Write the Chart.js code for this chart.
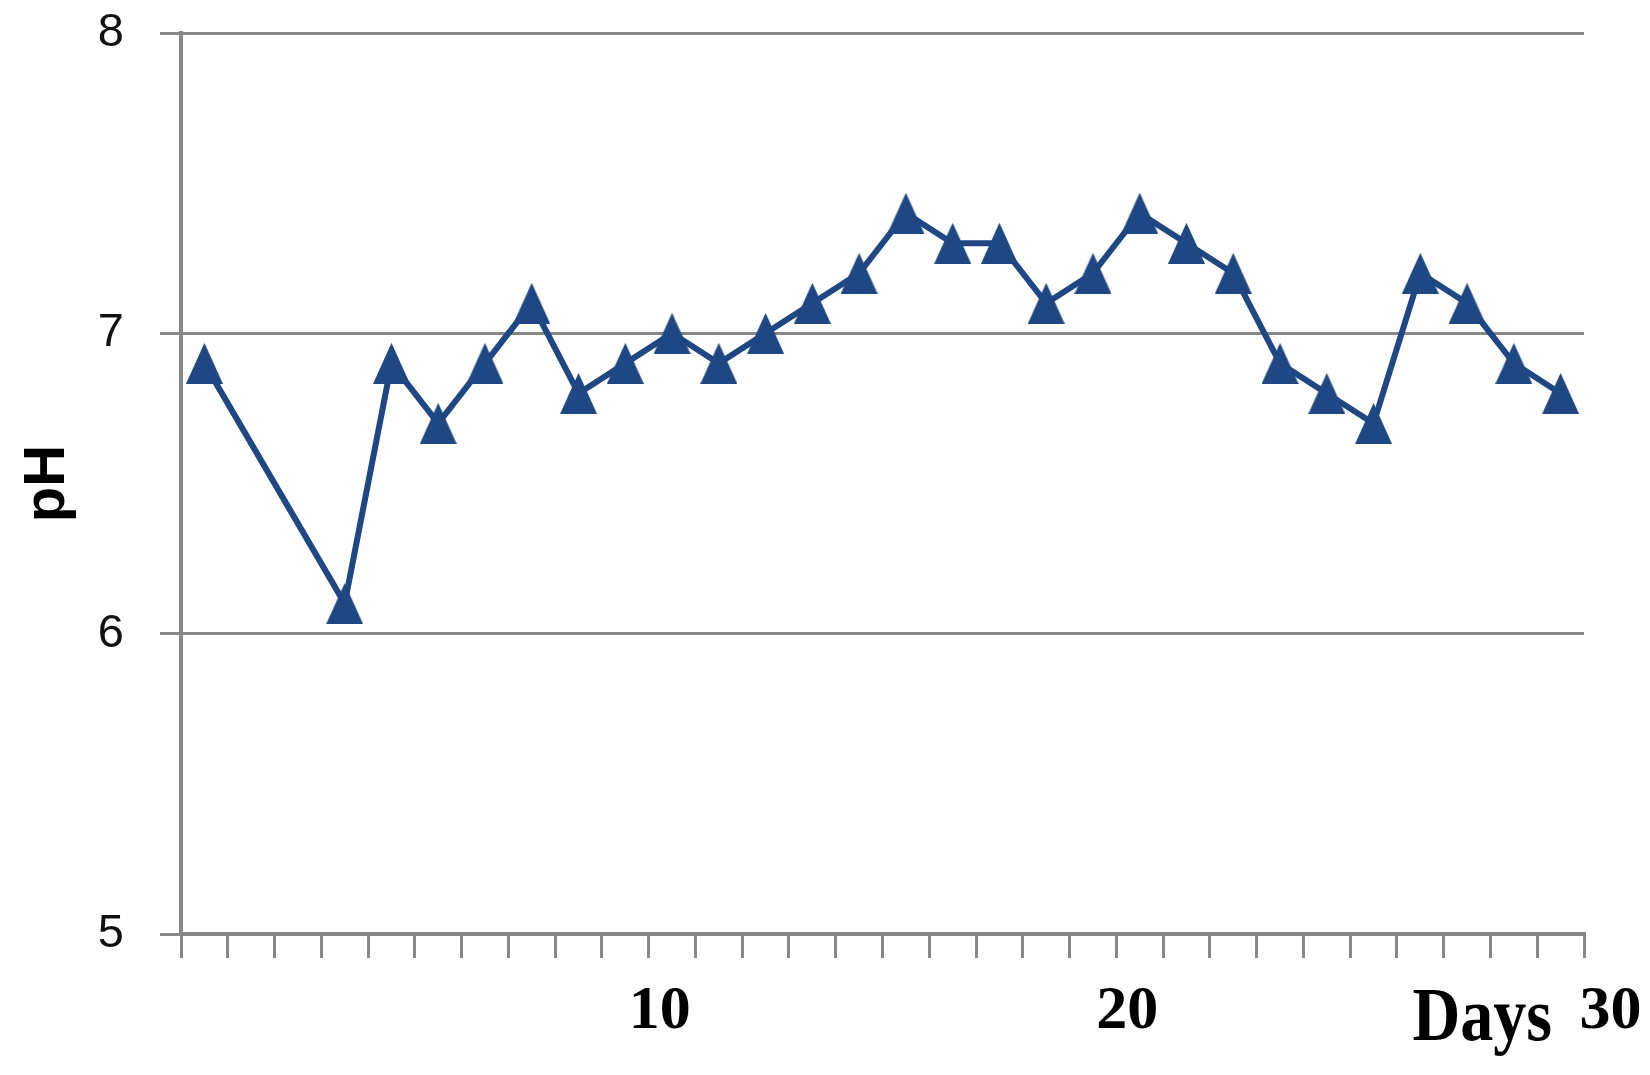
<!DOCTYPE html>
<html><head><meta charset="utf-8">
<script src="https://cdn.jsdelivr.net/npm/chart.js@4/dist/chart.umd.min.js"></script>
<style>html,body{margin:0;padding:0;background:#fff}canvas{display:block}</style>
</head><body>
<canvas id="c" width="1650" height="1075"></canvas>
<script>
// ---- data ----
const days = [1, 4, 5, 6, 7, 8, 9, 10, 11, 12, 13, 14, 15, 16, 17, 18, 19, 20, 21, 22, 23, 24, 25, 26, 27, 28, 29, 30];
const phValues = [6.9, 6.1, 6.9, 6.7, 6.9, 7.1, 6.8, 6.9, 7.0, 6.9, 7.0, 7.1, 7.2, 7.4, 7.3, 7.3, 7.1, 7.2, 7.4, 7.3, 7.2, 6.9, 6.8, 6.7, 7.2, 7.1, 6.9, 6.8];
const xLabelDays = [10, 20, 30];
const yTickValues = [5, 6, 7, 8];
const xTitle = 'Days';
const yTitle = 'pH';

const GRID = '#878787';
const NAVY = '#1E4783';

const points = days.map((d, i) => ({x: d, y: phValues[i]}));

// triangle marker (isosceles, like the original spreadsheet marker)
const marker = document.createElement('canvas');
marker.width = 37; marker.height = 41;
(function () {
  const m = marker.getContext('2d');
  m.fillStyle = NAVY;
  m.beginPath();
  m.moveTo(18.5, 0);
  m.lineTo(37, 41);
  m.lineTo(0, 41);
  m.closePath();
  m.fill();
})();

const daysTitlePlugin = {
  id: 'daysTitle',
  afterDraw(chart) {
    const {ctx, chartArea} = chart;
    ctx.save();
    ctx.font = 'bold 76px "Liberation Serif"';
    ctx.fillStyle = '#000';
    ctx.textAlign = 'right';
    ctx.textBaseline = 'alphabetic';
    ctx.translate(chartArea.right - 32, chartArea.bottom + 106);
    ctx.scale(0.87, 1);
    ctx.fillText(xTitle, 0, 0);
    ctx.restore();
  }
};

new Chart(document.getElementById('c'), {
  type: 'line',
  data: {
    datasets: [{
      data: points,
      borderColor: NAVY,
      backgroundColor: NAVY,
      borderWidth: 6,
      pointStyle: marker,
      pointRadius: 20,
      tension: 0,
      fill: false
    }]
  },
  options: {
    responsive: false,
    animation: false,
    layout: {padding: {top: 33, right: 66, bottom: 0, left: 0}},
    plugins: {legend: {display: false}, tooltip: {enabled: false}},
    scales: {
      x: {
        type: 'linear',
        min: 0.5,
        max: 30.5,
        afterBuildTicks(scale) {
          const t = [];
          for (let k = 0; k <= 30; k++) t.push({value: k + 0.5});
          scale.ticks = t;
        },
        afterFit(scale) { scale.height = 141; scale.paddingLeft = 0; scale.paddingRight = 0; },
        grid: {drawOnChartArea: false, drawTicks: true, tickLength: 24, color: GRID, lineWidth: 3},
        border: {color: GRID, width: 4},
        ticks: {
          autoSkip: false,
          maxRotation: 0,
          padding: 17,
          labelOffset: 11,
          color: '#000',
          font: {family: '"Liberation Serif"', size: 62, weight: 'bold'},
          callback(value) {
            const d = Math.round(value - 0.5);
            if (!xLabelDays.includes(d)) return '';
            return d === xLabelDays[xLabelDays.length - 1] ? '\u2002' + d : String(d);
          }
        }
      },
      y: {
        min: 5,
        max: 8,
        afterBuildTicks(scale) { scale.ticks = yTickValues.map(v => ({value: v})); },
        afterFit(scale) { scale.width = 181; scale.paddingTop = 0; scale.paddingBottom = 0; },
        grid: {color: GRID, lineWidth: 3, tickLength: 21},
        border: {color: GRID, width: 4},
        ticks: {
          padding: 36,
          color: '#111',
          font: {family: '"Liberation Sans"', size: 47}
        },
        title: {
          display: true,
          text: yTitle,
          color: '#000',
          font: {family: '"Liberation Sans"', size: 58, weight: 'bold'},
          padding: {top: 13, bottom: 0}
        }
      }
    }
  },
  plugins: [daysTitlePlugin]
});
</script>
</body></html>
